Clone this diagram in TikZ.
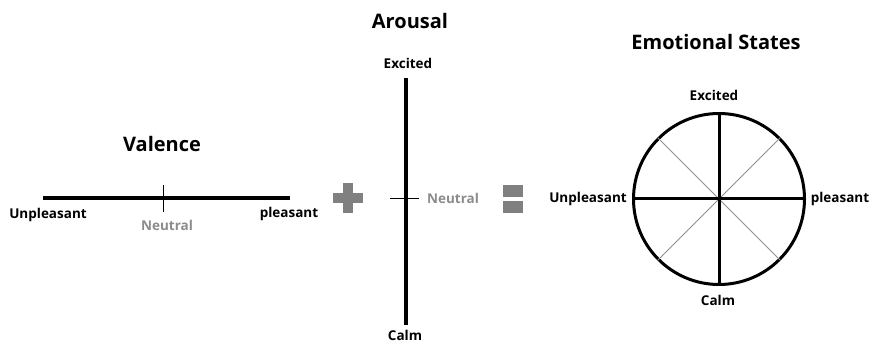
\documentclass[tikz,border=0pt]{standalone}
\usepackage{fontspec}
\setmainfont{Open Sans}
\definecolor{opgray}{HTML}{808080}
\definecolor{neutralgray}{HTML}{8C8C8C}
\definecolor{diaggray}{HTML}{909090}
\begin{document}
\begin{tikzpicture}[x=1pt,y=-1pt,
  lbl/.style={font=\bfseries\fontsize{13.5}{15}\selectfont, inner sep=0pt, anchor=base},
  ttl/.style={font=\bfseries\fontsize{20}{23}\selectfont, inner sep=0pt, anchor=base},
  neutrallbl/.style={lbl, text=neutralgray},
  axisline/.style={line width=3.5pt},
  ticklin/.style={line width=1pt},
  diagline/.style={line width=0.9pt, draw=diaggray},
  opshape/.style={fill=opgray, draw=none}]
\useasboundingbox (0,0) rectangle (872,344);
% ---------- Valence ----------
\node[ttl] (valence) at (162,152) {Valence};
\coordinate (vl) at (43,198);
\coordinate (vr) at (290,198);
\coordinate (vt1) at (163,185);
\coordinate (vt2) at (163,212);
\draw[axisline] (vl) -- (vr);
\draw[ticklin] (vt1) -- (vt2);
\node[lbl] (vun) at (48,219) {Unpleasant};
\node[lbl] (vpl) at (289,218) {pleasant};
\node[neutrallbl] (vne) at (167,231) {Neutral};
% ---------- plus ----------
\fill[opshape] (333,193) rectangle (363,203);
\fill[opshape] (343,183) rectangle (353,213);
% ---------- Arousal ----------
\node[ttl] (arousal) at (410,29) {Arousal};
\coordinate (at) at (406,78);
\coordinate (ab) at (406,325);
\coordinate (at1) at (390,199);
\coordinate (at2) at (419,199);
\draw[axisline] (at) -- (ab);
\draw[ticklin] (at1) -- (at2);
\node[lbl] (aex) at (408,69) {Excited};
\node[lbl] (aca) at (405,340) {Calm};
\node[neutrallbl] (ane) at (453,204) {Neutral};
% ---------- equals ----------
\fill[opshape] (503,185) rectangle (523,197);
\fill[opshape] (503,201) rectangle (523,213);
% ---------- Emotional states ----------
\node[ttl] (emo) at (716,50) {Emotional States};
\node[circle, minimum size=171pt, inner sep=0pt, line width=3pt, draw] (circ) at (719,199) {};
\draw[diagline] (circ.45) -- (circ.225);
\draw[diagline] (circ.135) -- (circ.315);
\draw[axisline, line width=3pt] (circ.north) -- (circ.south);
\draw[axisline, line width=3pt] (circ.west) -- (circ.east);
\node[lbl] (eex) at (714,101) {Excited};
\node[lbl] (eca) at (718,306) {Calm};
\node[lbl] (eun) at (588,203) {Unpleasant};
\node[lbl] (epl) at (840,203) {pleasant};
\end{tikzpicture}
\end{document}
